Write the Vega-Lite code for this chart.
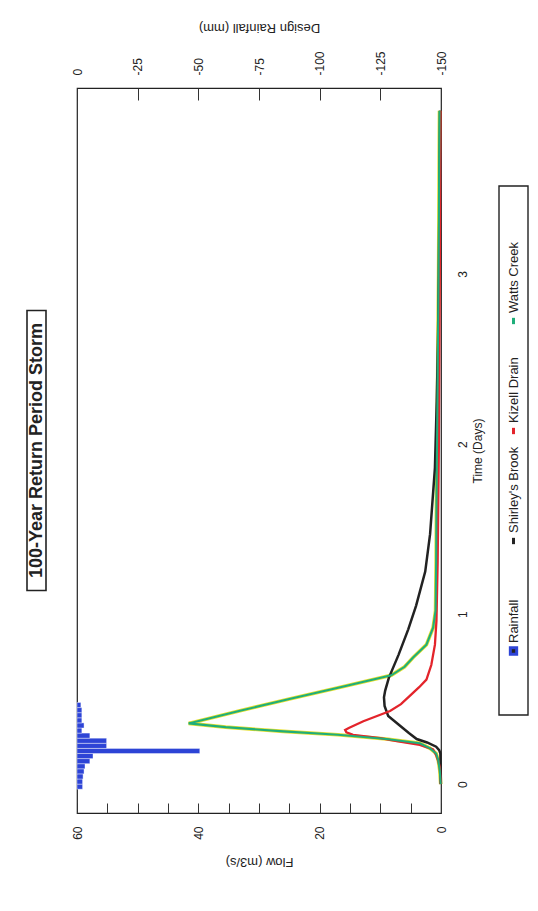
{
  "$schema": "https://vega.github.io/schema/vega-lite/v6.json",
  "background": "white",
  "padding": {"left": 26, "top": 20, "right": 0, "bottom": 12},
  "config": {
    "font": "Liberation Sans",
    "view": {"stroke": "#222", "strokeWidth": 1.2},
    "axis": {"labelColor": "#222", "titleColor": "#222", "tickColor": "#333", "labelFont": "Liberation Sans", "titleFont": "Liberation Sans", "titleFontWeight": "normal", "grid": false, "domain": false, "labelFlush": false, "labelOverlap": false}
  },
  "datasets": {
    "rain": [
      {"t0": -0.03, "t1": 0.00, "rain": -2.3},
      {"t0": 0.00, "t1": 0.03, "rain": -2.3},
      {"t0": 0.03, "t1": 0.06, "rain": -2.5},
      {"t0": 0.06, "t1": 0.09, "rain": -2.9},
      {"t0": 0.09, "t1": 0.12, "rain": -3.3},
      {"t0": 0.12, "t1": 0.15, "rain": -5.3},
      {"t0": 0.15, "t1": 0.18, "rain": -6.6},
      {"t0": 0.18, "t1": 0.21, "rain": -50.6},
      {"t0": 0.21, "t1": 0.24, "rain": -12.2},
      {"t0": 0.24, "t1": 0.27, "rain": -12.2},
      {"t0": 0.27, "t1": 0.30, "rain": -5.3},
      {"t0": 0.30, "t1": 0.33, "rain": -2.0},
      {"t0": 0.33, "t1": 0.36, "rain": -2.9},
      {"t0": 0.36, "t1": 0.39, "rain": -2.0},
      {"t0": 0.39, "t1": 0.42, "rain": -2.0},
      {"t0": 0.42, "t1": 0.45, "rain": -2.0},
      {"t0": 0.45, "t1": 0.48, "rain": -1.6}
    ],
    "flow": [
      {"series": "Shirley's Brook", "t": 0.00, "f": 0.02},
      {"series": "Shirley's Brook", "t": 0.10, "f": 0.05},
      {"series": "Shirley's Brook", "t": 0.18, "f": 0.1},
      {"series": "Shirley's Brook", "t": 0.20, "f": 0.3},
      {"series": "Shirley's Brook", "t": 0.22, "f": 0.8},
      {"series": "Shirley's Brook", "t": 0.245, "f": 2.3},
      {"series": "Shirley's Brook", "t": 0.265, "f": 4.0},
      {"series": "Shirley's Brook", "t": 0.30, "f": 5.3},
      {"series": "Shirley's Brook", "t": 0.35, "f": 7.0},
      {"series": "Shirley's Brook", "t": 0.40, "f": 8.7},
      {"series": "Shirley's Brook", "t": 0.46, "f": 9.3},
      {"series": "Shirley's Brook", "t": 0.51, "f": 9.4},
      {"series": "Shirley's Brook", "t": 0.55, "f": 9.2},
      {"series": "Shirley's Brook", "t": 0.625, "f": 8.6},
      {"series": "Shirley's Brook", "t": 0.76, "f": 7.0},
      {"series": "Shirley's Brook", "t": 0.91, "f": 5.4},
      {"series": "Shirley's Brook", "t": 1.05, "f": 4.1},
      {"series": "Shirley's Brook", "t": 1.25, "f": 2.6},
      {"series": "Shirley's Brook", "t": 1.47, "f": 1.8},
      {"series": "Shirley's Brook", "t": 1.86, "f": 1.0},
      {"series": "Shirley's Brook", "t": 2.25, "f": 0.7},
      {"series": "Shirley's Brook", "t": 2.6, "f": 0.5},
      {"series": "Shirley's Brook", "t": 3.0, "f": 0.35},
      {"series": "Shirley's Brook", "t": 3.5, "f": 0.25},
      {"series": "Shirley's Brook", "t": 3.96, "f": 0.15},
      {"series": "Kizell Drain", "t": 0.00, "f": 0.05},
      {"series": "Kizell Drain", "t": 0.10, "f": 0.2},
      {"series": "Kizell Drain", "t": 0.135, "f": 0.45},
      {"series": "Kizell Drain", "t": 0.17, "f": 0.8},
      {"series": "Kizell Drain", "t": 0.204, "f": 1.3},
      {"series": "Kizell Drain", "t": 0.23, "f": 3.5},
      {"series": "Kizell Drain", "t": 0.253, "f": 7.3},
      {"series": "Kizell Drain", "t": 0.27, "f": 10.0},
      {"series": "Kizell Drain", "t": 0.29, "f": 14.5},
      {"series": "Kizell Drain", "t": 0.305, "f": 15.6},
      {"series": "Kizell Drain", "t": 0.318, "f": 15.8},
      {"series": "Kizell Drain", "t": 0.33, "f": 15.2},
      {"series": "Kizell Drain", "t": 0.37, "f": 12.8},
      {"series": "Kizell Drain", "t": 0.43, "f": 8.4},
      {"series": "Kizell Drain", "t": 0.47, "f": 6.6},
      {"series": "Kizell Drain", "t": 0.52, "f": 5.1},
      {"series": "Kizell Drain", "t": 0.57, "f": 3.6},
      {"series": "Kizell Drain", "t": 0.615, "f": 2.4},
      {"series": "Kizell Drain", "t": 0.70, "f": 1.6},
      {"series": "Kizell Drain", "t": 0.82, "f": 1.0},
      {"series": "Kizell Drain", "t": 0.96, "f": 0.75},
      {"series": "Kizell Drain", "t": 1.31, "f": 0.55},
      {"series": "Kizell Drain", "t": 2.0, "f": 0.35},
      {"series": "Kizell Drain", "t": 3.0, "f": 0.2},
      {"series": "Kizell Drain", "t": 3.96, "f": 0.1},
      {"series": "Watts Creek", "t": 0.00, "f": 0.05},
      {"series": "Watts Creek", "t": 0.08, "f": 0.2},
      {"series": "Watts Creek", "t": 0.14, "f": 0.45},
      {"series": "Watts Creek", "t": 0.18, "f": 0.8},
      {"series": "Watts Creek", "t": 0.21, "f": 1.8},
      {"series": "Watts Creek", "t": 0.24, "f": 3.5},
      {"series": "Watts Creek", "t": 0.265, "f": 9.0},
      {"series": "Watts Creek", "t": 0.29, "f": 17.0},
      {"series": "Watts Creek", "t": 0.31, "f": 26.0},
      {"series": "Watts Creek", "t": 0.335, "f": 35.5},
      {"series": "Watts Creek", "t": 0.357, "f": 41.6},
      {"series": "Watts Creek", "t": 0.43, "f": 33.3},
      {"series": "Watts Creek", "t": 0.50, "f": 25.0},
      {"series": "Watts Creek", "t": 0.57, "f": 16.6},
      {"series": "Watts Creek", "t": 0.64, "f": 8.2},
      {"series": "Watts Creek", "t": 0.69, "f": 6.0},
      {"series": "Watts Creek", "t": 0.745, "f": 4.6},
      {"series": "Watts Creek", "t": 0.82, "f": 2.4},
      {"series": "Watts Creek", "t": 0.92, "f": 1.3},
      {"series": "Watts Creek", "t": 1.02, "f": 0.9},
      {"series": "Watts Creek", "t": 1.31, "f": 0.8},
      {"series": "Watts Creek", "t": 1.66, "f": 0.75},
      {"series": "Watts Creek", "t": 2.2, "f": 0.6},
      {"series": "Watts Creek", "t": 3.0, "f": 0.4},
      {"series": "Watts Creek", "t": 3.96, "f": 0.25}
    ],
    "legend": [
      {"box": "legend", "name": "Rainfall"},
      {"box": "legend", "name": "Shirley's Brook"},
      {"box": "legend", "name": "Kizell Drain"},
      {"box": "legend", "name": "Watts Creek"}
    ],
    "legendbox": [{"box": "legend"}],
    "title": [{"label": "100-Year Return Period Storm"}]
  },
  "hconcat": [
    {
      "width": 51,
      "height": 280,
      "view": {"stroke": null},
      "data": {"name": "title"},
      "encoding": {
        "x": {"field": "label", "type": "nominal", "scale": {"type": "band", "range": [1, 20], "paddingInner": 0, "paddingOuter": 0}, "axis": null},
        "y": {"field": "label", "type": "nominal", "scale": {"type": "band", "paddingInner": 0, "paddingOuter": 0}, "axis": null}
      },
      "layer": [
        {"mark": {"type": "rect", "fill": "white", "stroke": "#222", "strokeWidth": 1.6}},
        {"mark": {"type": "text", "angle": 270, "fontSize": 18, "fontWeight": "bold", "align": "center", "baseline": "middle", "color": "#222"},
         "encoding": {"text": {"field": "label"}}}
      ]
    },
    {
      "width": 364,
      "height": 725,
      "resolve": {"scale": {"x": "independent"}},
      "layer": [
        {
          "data": {"name": "rain"},
          "mark": {"type": "rect", "color": "#2d44d6", "stroke": "white", "strokeWidth": 0.4},
          "encoding": {
            "x": {"field": "rain", "type": "quantitative", "scale": {"domain": [-150, 0], "reverse": true, "nice": false, "zero": false},
              "axis": {"orient": "top", "values": [-150, -125, -100, -75, -50, -25, 0], "labelExpr": "datum.value == 0 ? '0' : '-' + format(abs(datum.value), 'd')", "labelAngle": 270, "labelAlign": "left", "labelBaseline": "middle", "tickSize": -12, "labelPadding": 25, "labelFontSize": 12, "title": "Design Rainfall (mm)", "titleAngle": 180, "titleBaseline": "top", "titlePadding": 17, "titleFontSize": 13}},
            "x2": {"datum": 0},
            "y": {"field": "t0", "type": "quantitative", "scale": {"domain": [-0.17, 4.094], "nice": false, "zero": false},
              "axis": {"orient": "right", "values": [0, 1, 2, 3], "labelAngle": 270, "labelAlign": "center", "labelBaseline": "top", "ticks": false, "labelPadding": 16, "labelFontSize": 12, "title": "Time (Days)", "titleAngle": 270, "titleBaseline": "top", "titlePadding": 4, "titleFontSize": 12}},
            "y2": {"field": "t1"}
          }
        },
        {
          "data": {"name": "flow"},
          "layer": [
            {
              "transform": [{"filter": "datum.series == 'Watts Creek'"}],
              "mark": {"type": "line", "color": "#e6df2e", "strokeWidth": 3.6},
              "encoding": {
                "x": {"field": "f", "type": "quantitative", "scale": {"domain": [0, 60], "reverse": true, "nice": false, "zero": false},
                  "axis": {"orient": "bottom", "values": [0, 5, 10, 15, 20, 25, 30, 35, 40, 45, 50, 55, 60], "labelExpr": "datum.value % 20 == 0 ? datum.label : ''", "labelAngle": 270, "labelAlign": "right", "labelBaseline": "middle", "tickSize": -10, "labelPadding": 23, "labelFontSize": 12, "title": "Flow (m3/s)", "titleAngle": 180, "titleBaseline": "bottom", "titlePadding": 15, "titleFontSize": 13}},
                "y": {"field": "t", "type": "quantitative", "scale": {"domain": [-0.17, 4.094], "nice": false, "zero": false},
                  "axis": {"orient": "right", "values": [0, 1, 2, 3], "labelAngle": 270, "labelAlign": "center", "labelBaseline": "top", "ticks": false, "labelPadding": 16, "labelFontSize": 12, "title": "Time (Days)", "titleAngle": 270, "titleBaseline": "top", "titlePadding": 4, "titleFontSize": 12}},
                "order": {"field": "t", "type": "quantitative"}
              }
            },
            {
              "mark": {"type": "line"},
              "encoding": {
                "x": {"field": "f", "type": "quantitative", "scale": {"domain": [0, 60], "reverse": true, "nice": false, "zero": false},
                  "axis": {"orient": "bottom", "values": [0, 5, 10, 15, 20, 25, 30, 35, 40, 45, 50, 55, 60], "labelExpr": "datum.value % 20 == 0 ? datum.label : ''", "labelAngle": 270, "labelAlign": "right", "labelBaseline": "middle", "tickSize": -10, "labelPadding": 23, "labelFontSize": 12, "title": "Flow (m3/s)", "titleAngle": 180, "titleBaseline": "bottom", "titlePadding": 15, "titleFontSize": 13}},
                "y": {"field": "t", "type": "quantitative", "scale": {"domain": [-0.17, 4.094], "nice": false, "zero": false},
                  "axis": {"orient": "right", "values": [0, 1, 2, 3], "labelAngle": 270, "labelAlign": "center", "labelBaseline": "top", "ticks": false, "labelPadding": 16, "labelFontSize": 12, "title": "Time (Days)", "titleAngle": 270, "titleBaseline": "top", "titlePadding": 4, "titleFontSize": 12}},
                "order": {"field": "t", "type": "quantitative"},
                "color": {"field": "series", "type": "nominal", "scale": {"domain": ["Shirley's Brook", "Kizell Drain", "Watts Creek"], "range": ["#222222", "#e3242b", "#1fae7a"]}, "legend": null},
                "strokeWidth": {"field": "series", "type": "nominal", "scale": {"domain": ["Shirley's Brook", "Kizell Drain", "Watts Creek"], "range": [2.5, 2.1, 2.0]}, "legend": null}
              }
            }
          ]
        }
      ]
    },
    {
      "width": 88,
      "height": 529,
      "view": {"stroke": null},
      "resolve": {"scale": {"y": "independent"}},
      "layer": [
        {
          "data": {"name": "legendbox"},
          "mark": {"type": "rect", "fill": "white", "stroke": "#222", "strokeWidth": 1.4},
          "encoding": {
            "x": {"field": "box", "type": "nominal", "scale": {"type": "band", "range": [58, 87], "paddingInner": 0, "paddingOuter": 0}, "axis": null},
            "y": {"field": "box", "type": "nominal", "scale": {"type": "band", "paddingInner": 0, "paddingOuter": 0}, "axis": null}
          }
        },
        {
          "data": {"name": "legend"},
          "encoding": {
            "x": {"field": "box", "type": "nominal", "scale": {"type": "band", "range": [58, 87], "paddingInner": 0, "paddingOuter": 0}, "axis": null},
            "y": {"field": "name", "type": "nominal", "scale": {"type": "point", "domain": ["Rainfall", "Shirley's Brook", "Kizell Drain", "Watts Creek"], "range": [520, 80]}, "axis": null}
          },
          "layer": [
            {
              "mark": {"type": "point", "filled": true, "size": 40, "strokeWidth": 3, "opacity": 1},
              "encoding": {
                "shape": {"field": "name", "type": "nominal", "scale": {"domain": ["Rainfall", "Shirley's Brook", "Kizell Drain", "Watts Creek"], "range": ["square", "M0,-1L0,1", "M0,-1L0,1", "M0,-1L0,1"]}, "legend": null},
                "color": {"field": "name", "type": "nominal", "scale": {"domain": ["Rainfall", "Shirley's Brook", "Kizell Drain", "Watts Creek"], "range": ["#2d44d6", "#222222", "#e3242b", "#1fae7a"]}, "legend": null},
                "stroke": {"field": "name", "type": "nominal", "scale": {"domain": ["Rainfall", "Shirley's Brook", "Kizell Drain", "Watts Creek"], "range": ["#2d44d6", "#222222", "#e3242b", "#1fae7a"]}, "legend": null}
              }
            },
            {
              "mark": {"type": "text", "angle": 270, "align": "left", "baseline": "middle", "dx": 8, "fontSize": 13, "color": "#222"},
              "encoding": {"text": {"field": "name"}}
            }
          ]
        }
      ]
    }
  ],
  "spacing": 0,
  "center": true,
  "bounds": "flush"
}
